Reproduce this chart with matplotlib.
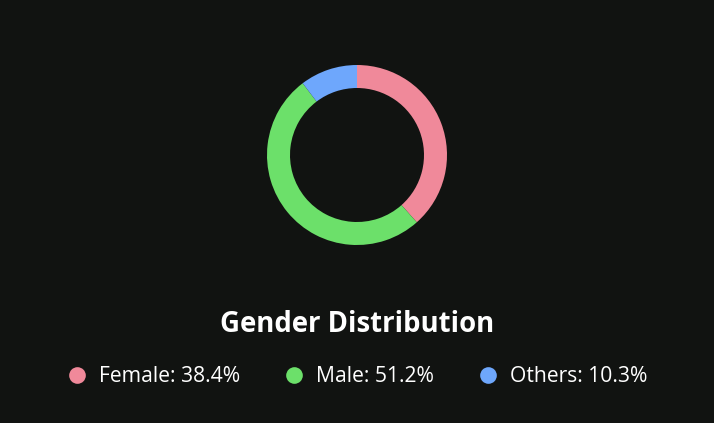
import matplotlib
matplotlib.use("Agg")
import matplotlib.pyplot as plt
from matplotlib.lines import Line2D

labels = ["Female", "Male", "Others"]
values = [38.4, 51.2, 10.3]
colors = ["#F0899A", "#6CE06A", "#6EA7FC"]

bg = "#111311"
plt.rcParams['font.family'] = ['Open Sans', 'DejaVu Sans']

fig = plt.figure(figsize=(7.14, 4.23), dpi=100, facecolor=bg)
ax = fig.add_axes([(357 - 90) / 714, 1 - 245 / 423, 180 / 714, 180 / 423])
ax.set_facecolor(bg)
ax.pie(values, colors=colors, startangle=90, counterclock=False,
       wedgeprops=dict(width=1 - 67 / 90, edgecolor='none'), radius=1)
ax.set_xlim(-1, 1)
ax.set_ylim(-1, 1)
ax.set_aspect('equal')
ax.axis('off')

fig.text(0.5, 1 - 324 / 423, "Gender Distribution", ha='center', va='center',
         color='white', fontsize=19.8, fontweight='bold')

handles = [Line2D([], [], marker='o', linestyle='none', markersize=12,
                  markerfacecolor=c, markeredgecolor='none') for c in colors]
texts = [f"{l}: {v}%" for l, v in zip(labels, values)]
leg = fig.legend(handles, texts, loc='center', bbox_to_anchor=(0.5, 1 - 377 / 423),
                 ncol=3, frameon=False, fontsize=15.2, labelcolor='white',
                 handletextpad=0.55, columnspacing=2.05, handlelength=1.0)

fig.savefig("out.png", dpi=100, facecolor=bg)
